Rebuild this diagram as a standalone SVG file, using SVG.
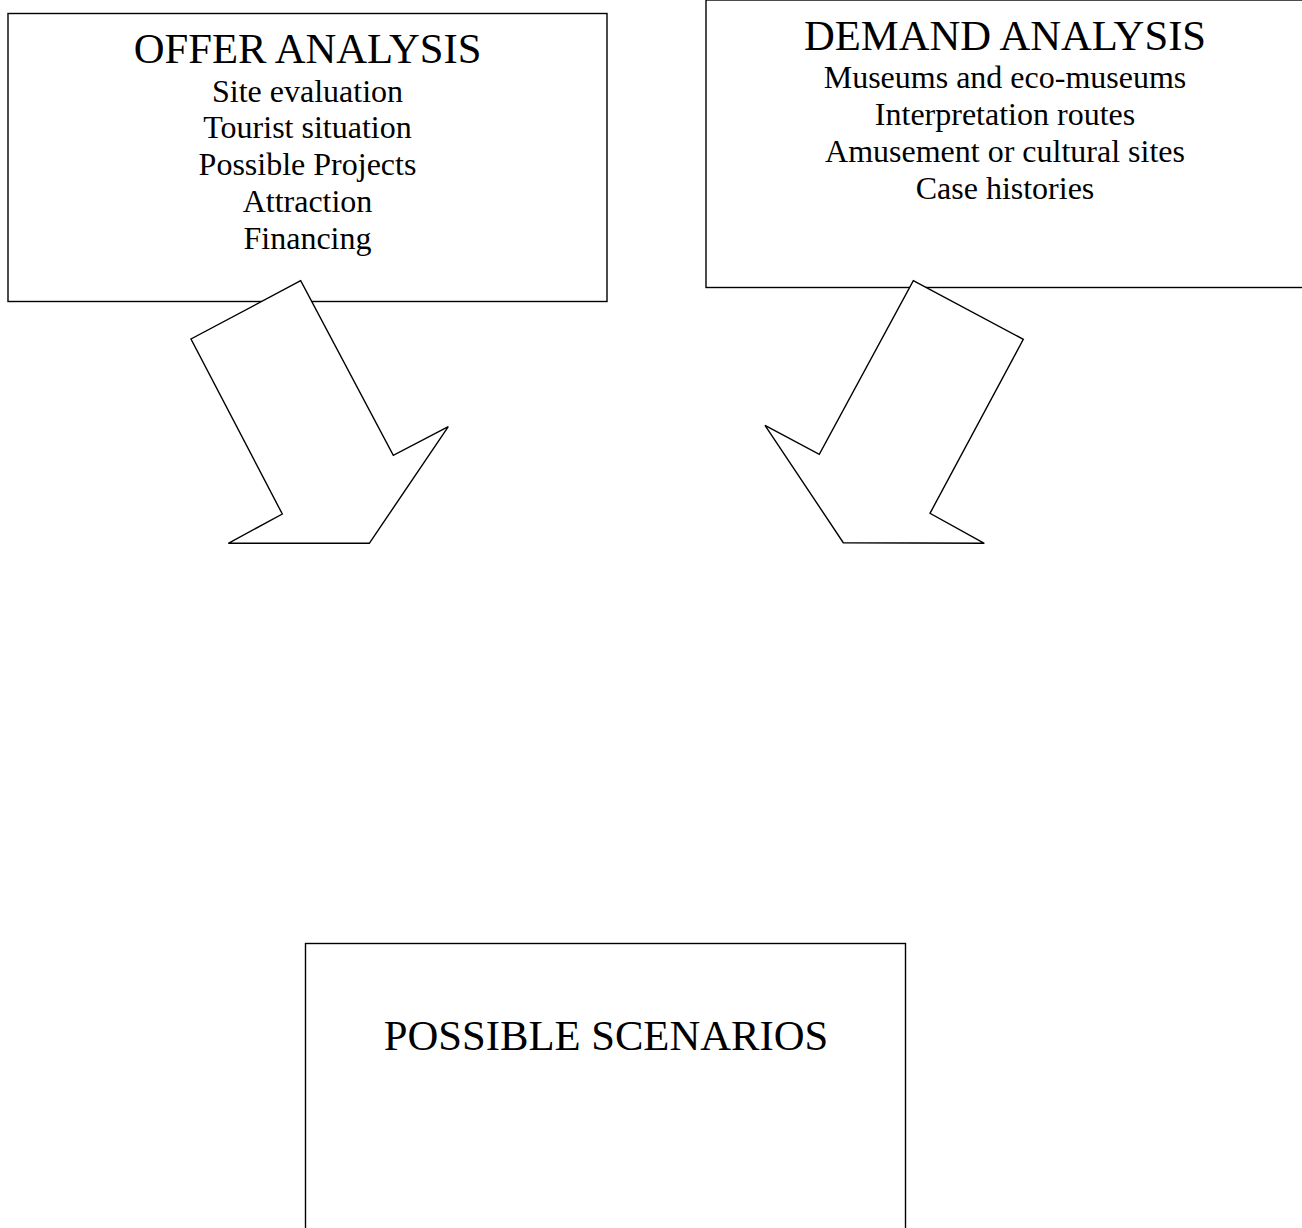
<svg xmlns="http://www.w3.org/2000/svg" width="1302" height="1228" viewBox="0 0 1302 1228">
<style>
.box{fill:#fff;stroke:#000;stroke-width:1.4}
.arrow{fill:#fff;stroke:#000;stroke-width:1.4;stroke-linejoin:miter}
text{font-family:"Liberation Serif","Times New Roman",serif;fill:#000;text-anchor:middle}
.t{font-size:42.67px}
.b{font-size:32px}
</style>
<rect width="1302" height="1228" fill="#fff"/>
<g id="offer">
<rect class="box" x="8" y="13.5" width="599" height="288"/>
<text class="t" x="307.5" y="63">OFFER ANALYSIS</text>
<text class="b" x="307.5" y="101.5">Site evaluation</text>
<text class="b" x="307.5" y="138.3">Tourist situation</text>
<text class="b" x="307.5" y="175">Possible Projects</text>
<text class="b" x="307.5" y="211.8">Attraction</text>
<text class="b" x="307.5" y="248.5">Financing</text>
</g>
<g id="demand">
<rect class="box" x="706" y="0" width="600" height="287.5"/>
<text class="t" x="1005" y="49.5">DEMAND ANALYSIS</text>
<text class="b" x="1005" y="88.3">Museums and eco-museums</text>
<text class="b" x="1005" y="125">Interpretation routes</text>
<text class="b" x="1005" y="162.3">Amusement or cultural sites</text>
<text class="b" x="1005" y="199">Case histories</text>
</g>
<g id="scenarios">
<rect class="box" x="305.5" y="943.5" width="600" height="300"/>
<text class="t" x="606" y="1050">POSSIBLE SCENARIOS</text>
</g>
<g id="connectors">
<polygon class="arrow" points="300.7,280.7 191,339 282.3,514 228.3,543.3 369.3,543.3 448.3,426.7 393.3,455.3"/>
<polygon class="arrow" points="913.3,280.7 1023.3,339.3 930,513.3 984.3,543.3 843.3,542.7 765,425.3 819.3,454.3"/>
</g>
</svg>
